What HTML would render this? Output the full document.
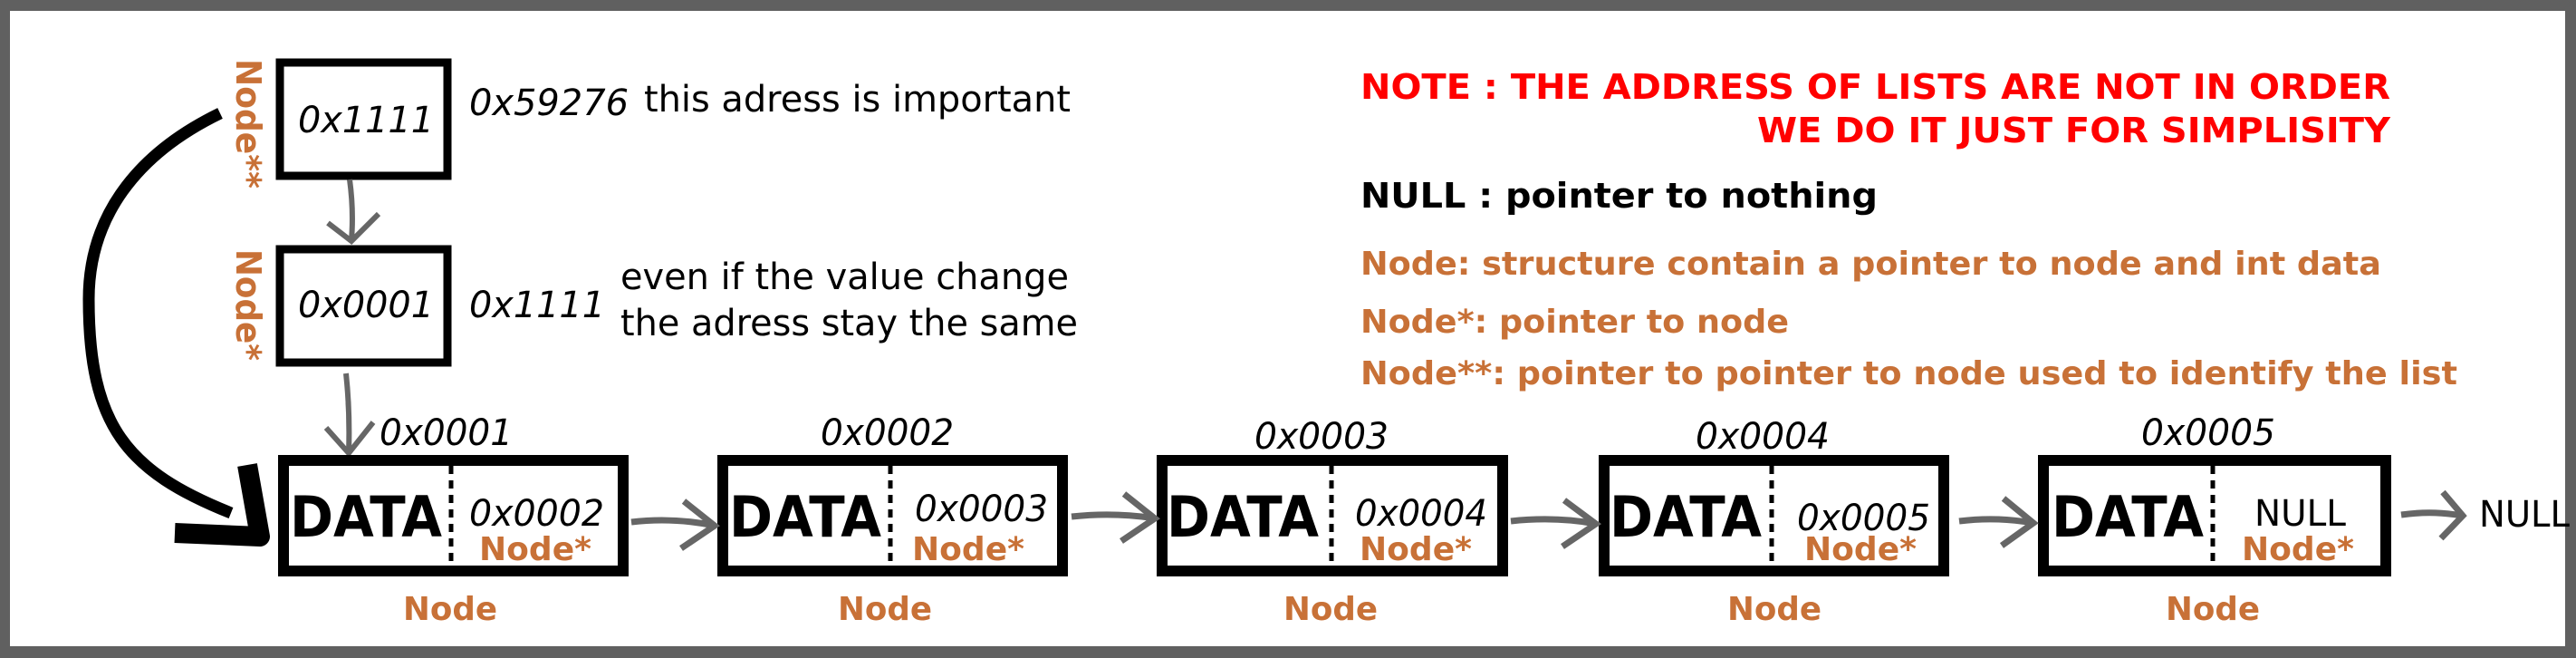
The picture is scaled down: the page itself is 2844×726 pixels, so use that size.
<!DOCTYPE html>
<html><head><meta charset="utf-8"><style>
html,body{margin:0;padding:0;background:#606060;}
svg{display:block;}
text{font-family:"DejaVu Sans","Liberation Sans",sans-serif;}
</style></head><body>
<svg width="2844" height="726" viewBox="0 0 2844 726" xmlns="http://www.w3.org/2000/svg">
<rect x="0" y="0" width="2844" height="726" fill="#606060"/>
<rect x="11" y="12" width="2821" height="701" fill="#fff"/>

<!-- top boxes -->
<rect x="309" y="69" width="185" height="125" fill="none" stroke="#000" stroke-width="9"/>
<rect x="309" y="275" width="185" height="125" fill="none" stroke="#000" stroke-width="9"/>
<text x="329" y="146" font-size="40" font-style="italic" textLength="150" lengthAdjust="spacingAndGlyphs">0x1111</text>
<text x="329" y="350" font-size="40" font-style="italic" textLength="150" lengthAdjust="spacingAndGlyphs">0x0001</text>
<text x="518" y="127" font-size="40" font-style="italic" textLength="176" lengthAdjust="spacingAndGlyphs">0x59276</text>
<text x="711" y="123" font-size="40" textLength="471" lengthAdjust="spacingAndGlyphs">this adress is important</text>
<text x="518" y="350" font-size="40" font-style="italic" textLength="150" lengthAdjust="spacingAndGlyphs">0x1111</text>
<text x="685" y="319" font-size="40" textLength="495" lengthAdjust="spacingAndGlyphs">even if the value change</text>
<text x="685" y="370" font-size="40" textLength="505" lengthAdjust="spacingAndGlyphs">the adress stay the same</text>

<g fill="#c87137" font-weight="bold" font-size="38">
<text transform="translate(261,65) rotate(90)" textLength="143" lengthAdjust="spacingAndGlyphs">Node**</text>
<text transform="translate(261,275) rotate(90)" textLength="123" lengthAdjust="spacingAndGlyphs">Node*</text>
</g>

<!-- gray vertical arrows -->
<g fill="none" stroke="#666" stroke-width="6" stroke-linejoin="miter">
<path d="M386,198 C389,220 390,240 388,265"/>
<path d="M362,246 L388,266 L418,236"/>
<path d="M382,412 C385,440 386,470 385,500"/>
<path d="M360,472 L385,500 L412,466"/>
</g>

<!-- curved black arrow -->
<g fill="none" stroke="#000" stroke-linecap="butt">
<path d="M243,125 C150,170 98,240 98,330 C98,470 140,520 255,566" stroke-width="13"/>
<path d="M273,513 L287,592 L193,588" stroke-width="22" stroke-linejoin="round"/>
</g>

<!-- list nodes -->
<g id="nodes">
<g fill="none" stroke="#000" stroke-width="12">
<rect x="313" y="508" width="375" height="122"/>
<rect x="798" y="508" width="375" height="122"/>
<rect x="1283" y="508" width="376" height="122"/>
<rect x="1771" y="508" width="375" height="122"/>
<rect x="2256" y="508" width="378" height="122"/>
</g>
<g stroke="#000" stroke-width="5" stroke-dasharray="9,7">
<line x1="498" y1="514" x2="498" y2="624"/>
<line x1="983" y1="514" x2="983" y2="624"/>
<line x1="1470" y1="514" x2="1470" y2="624"/>
<line x1="1956" y1="514" x2="1956" y2="624"/>
<line x1="2443" y1="514" x2="2443" y2="624"/>
</g>
<g font-weight="bold" font-size="62">
<text x="320" y="592" textLength="168" lengthAdjust="spacingAndGlyphs">DATA</text>
<text x="805" y="592" textLength="168" lengthAdjust="spacingAndGlyphs">DATA</text>
<text x="1288" y="592" textLength="168" lengthAdjust="spacingAndGlyphs">DATA</text>
<text x="1777" y="592" textLength="168" lengthAdjust="spacingAndGlyphs">DATA</text>
<text x="2265" y="592" textLength="168" lengthAdjust="spacingAndGlyphs">DATA</text>
</g>
<g font-style="italic" font-size="40">
<text x="518" y="580" textLength="149" lengthAdjust="spacingAndGlyphs">0x0002</text>
<text x="1010" y="575" textLength="147" lengthAdjust="spacingAndGlyphs">0x0003</text>
<text x="1496" y="580" textLength="146" lengthAdjust="spacingAndGlyphs">0x0004</text>
<text x="1984" y="585" textLength="147" lengthAdjust="spacingAndGlyphs">0x0005</text>
<text x="419" y="491" textLength="147" lengthAdjust="spacingAndGlyphs">0x0001</text>
<text x="906" y="491" textLength="147" lengthAdjust="spacingAndGlyphs">0x0002</text>
<text x="1385" y="495" textLength="148" lengthAdjust="spacingAndGlyphs">0x0003</text>
<text x="1872" y="495" textLength="148" lengthAdjust="spacingAndGlyphs">0x0004</text>
<text x="2364" y="491" textLength="148" lengthAdjust="spacingAndGlyphs">0x0005</text>
</g>
<text x="2489" y="580" font-size="40" textLength="101" lengthAdjust="spacingAndGlyphs">NULL</text>
<text x="2737" y="581" font-size="40" textLength="100" lengthAdjust="spacingAndGlyphs">NULL</text>
<g fill="#c87137" font-weight="bold" font-size="36">
<text x="529" y="618" textLength="124" lengthAdjust="spacingAndGlyphs">Node*</text>
<text x="1007" y="618" textLength="124" lengthAdjust="spacingAndGlyphs">Node*</text>
<text x="1501" y="618" textLength="124" lengthAdjust="spacingAndGlyphs">Node*</text>
<text x="1992" y="618" textLength="124" lengthAdjust="spacingAndGlyphs">Node*</text>
<text x="2475" y="618" textLength="124" lengthAdjust="spacingAndGlyphs">Node*</text>
<text x="445" y="684" textLength="104" lengthAdjust="spacingAndGlyphs">Node</text>
<text x="925" y="684" textLength="104" lengthAdjust="spacingAndGlyphs">Node</text>
<text x="1417" y="684" textLength="104" lengthAdjust="spacingAndGlyphs">Node</text>
<text x="1907" y="684" textLength="104" lengthAdjust="spacingAndGlyphs">Node</text>
<text x="2391" y="684" textLength="104" lengthAdjust="spacingAndGlyphs">Node</text>
</g>
</g>

<!-- horizontal gray arrows -->
<g fill="none" stroke="#666" stroke-width="7">
<path d="M697,576 C730,572 760,574 789,580"/>
<path d="M755,553 L789,580 L752,605"/>
<path d="M1183,570 C1220,566 1250,568 1275,572"/>
<path d="M1241,545 L1275,572 L1238,597"/>
<path d="M1668,575 C1705,571 1735,573 1762,578"/>
<path d="M1727,552 L1762,578 L1725,603"/>
<path d="M2163,575 C2195,571 2220,573 2245,577"/>
<path d="M2212,550 L2245,577 L2210,602"/>
<path d="M2651,568 C2680,564 2700,566 2719,569"/>
<path d="M2697,543 L2719,569 L2695,594"/>
</g>

<!-- legend -->
<g font-weight="bold" font-size="38">
<text x="1502" y="109" fill="#ff0000" textLength="1137" lengthAdjust="spacingAndGlyphs">NOTE : THE ADDRESS OF LISTS ARE NOT IN ORDER</text>
<text x="1940" y="157" fill="#ff0000" textLength="699" lengthAdjust="spacingAndGlyphs">WE DO IT JUST FOR SIMPLISITY</text>
<text x="1502" y="229" fill="#000" textLength="571" lengthAdjust="spacingAndGlyphs">NULL : pointer to nothing</text>
<g fill="#c87137" font-size="36">
<text x="1502" y="303" textLength="1127" lengthAdjust="spacingAndGlyphs">Node: structure contain a pointer to node and int data</text>
<text x="1502" y="367" textLength="473" lengthAdjust="spacingAndGlyphs">Node*: pointer to node</text>
<text x="1502" y="424" textLength="1211" lengthAdjust="spacingAndGlyphs">Node**: pointer to pointer to node used to identify the list</text>
</g>
</g>
</svg>
</body></html>
